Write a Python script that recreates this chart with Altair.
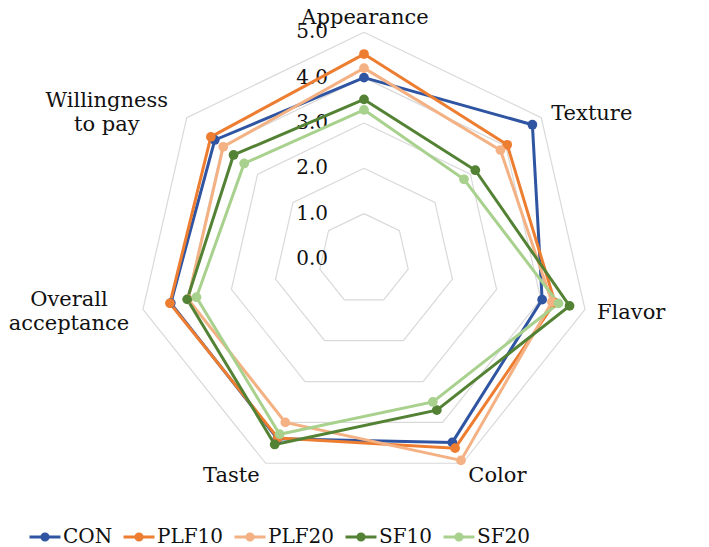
import altair as alt
import pandas as pd

categories = ["Appearance", "Texture", "Flavor", "Color", "Taste",
              "Overall acceptance", "Willingness to pay"]
category_labels = ["Appearance", "Texture", "Flavor", "Color", "Taste",
                   "Overall\nacceptance", "Willingness\nto pay"]
series = ["CON", "PLF10", "PLF20", "SF10", "SF20"]
CON = [4.00, 4.75, 4.03, 4.49, 4.40, 4.37, 4.21]
PLF10 = [4.52, 4.04, 4.32, 4.63, 4.38, 4.39, 4.32]
PLF20 = [4.21, 3.85, 4.25, 4.93, 4.00, 3.98, 3.97]
SF10 = [3.52, 3.14, 4.65, 3.70, 4.54, 4.00, 3.68]
SF20 = [3.29, 2.82, 4.40, 3.50, 4.29, 3.79, 3.38]
values = [CON, PLF10, PLF20, SF10, SF20]
colors = ["#2F55A2", "#ED7D31", "#F4B183", "#548235", "#A9D18E"]
ring_levels = [1, 2, 3, 4, 5]
tick_levels = [0, 1, 2, 3, 4, 5]
tick_labels = ["0.0", "1.0", "2.0", "3.0", "4.0", "5.0"]

n = len(categories)
FONT = "DejaVu Serif"

rows = []
for s, vals in zip(series, values):
    for k in range(n + 1):
        rows.append({"series": s, "idx": k, "value": vals[k % n],
                     "category": categories[k % n]})
data = pd.DataFrame(rows)

ring_rows = [{"level": lv, "idx": k, "value": lv} for lv in ring_levels for k in range(n + 1)]
rings = pd.DataFrame(ring_rows)

ticks = pd.DataFrame({"value": tick_levels, "label": tick_labels, "idx": [0] * len(tick_levels)})
cats = pd.DataFrame({"idx": list(range(n)), "label": category_labels,
                     "category": categories, "value": [5] * n})

W, H = 693, 539
unit = 45.34
cx, cy = 356, 251
xdom = [-cx / unit, (W - cx) / unit]
ydom = [-(H - cy) / unit, cy / unit]

X = alt.X("x:Q", scale=alt.Scale(domain=xdom, nice=False, zero=False), axis=None)
Y = alt.Y("y:Q", scale=alt.Scale(domain=ydom, nice=False, zero=False), axis=None)


def with_polar(ch):
    return ch.transform_calculate(
        ang=f"datum.idx * 2 * PI / {n}"
    ).transform_calculate(
        x="datum.value * sin(datum.ang)", y="datum.value * cos(datum.ang)"
    )


legend = alt.Legend(
    orient="none", legendX=20, legendY=512, direction="horizontal", title=None,
    symbolType="M-1,0L1,0M-0.2,0A0.2,0.2,0,1,0,0.2,0A0.2,0.2,0,1,0,-0.2,0Z",
    symbolSize=960, symbolStrokeWidth=3, labelFont=FONT, labelFontSize=20,
    labelColor="#111111", labelOffset=1, columnPadding=4, labelLimit=0,
    symbolOpacity=1,
)
color = alt.Color("series:N", scale=alt.Scale(domain=series, range=colors),
                  sort=series, legend=legend)

ring_layer = with_polar(alt.Chart(rings)).mark_line(color="#D9D9D9", strokeWidth=1.2).encode(
    x=X, y=Y, detail="level:N", order="idx:Q")

tick_layer = with_polar(alt.Chart(ticks)).mark_text(
    align="right", baseline="middle", dx=-36, font=FONT, fontSize=20, color="#111111"
).encode(x=X, y=Y, text="label:N")

line_layer = with_polar(alt.Chart(data)).mark_line(strokeWidth=3).encode(
    x=X, y=Y, color=color, order="idx:Q")

point_layer = with_polar(alt.Chart(data)).transform_filter(f"datum.idx < {n}").mark_point(
    filled=True, size=95, opacity=1).encode(x=X, y=Y, color=color)

label_specs = {
    "Appearance": dict(align="center", dx=1, dy=-8),
    "Texture": dict(align="left", dx=10, dy=2),
    "Flavor": dict(align="left", dx=12, dy=10),
    "Color": dict(align="left", dx=6, dy=19),
    "Taste": dict(align="right", dx=-6, dy=19),
    "Overall acceptance": dict(align="center", dx=-74, dy=-3),
    "Willingness to pay": dict(align="center", dx=-80, dy=-11),
}
label_layers = []
for cat in categories:
    spec = label_specs[cat]
    lay = with_polar(alt.Chart(cats)).transform_filter(
        alt.datum.category == cat
    ).mark_text(baseline="alphabetic", font=FONT, fontSize=21, color="#111111",
                lineBreak="\n", lineHeight=24, **spec).encode(x=X, y=Y, text="label:N")
    label_layers.append(lay)

chart = alt.layer(ring_layer, tick_layer, line_layer, point_layer, *label_layers).properties(
    width=W, height=H, autosize=alt.AutoSizeParams(type="none"), padding=0
).configure_view(stroke=None)

chart.save("out.html", embed_options={"renderer": "svg", "actions": False})
